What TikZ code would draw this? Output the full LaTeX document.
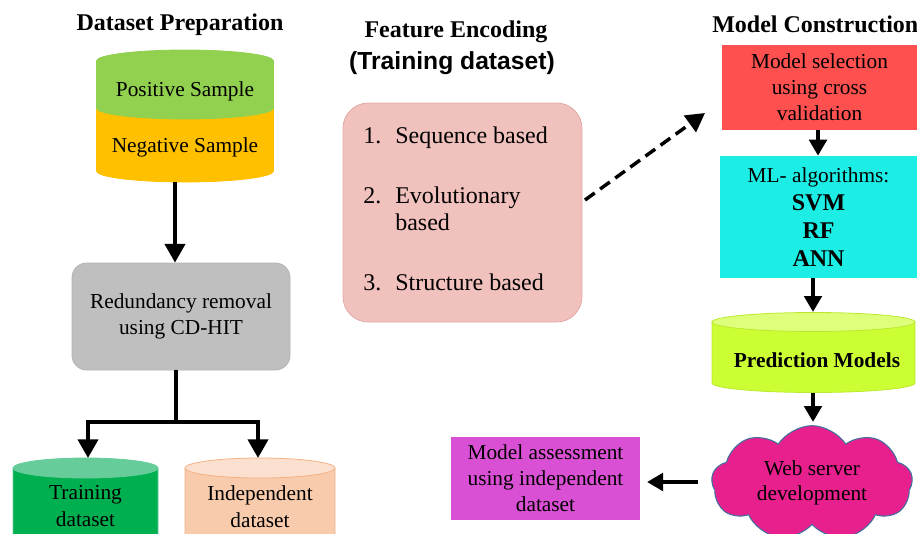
\documentclass[tikz,border=0pt]{standalone}
\usepackage{fontspec}
\setmainfont{Liberation Serif}
\newfontfamily\sansf{Liberation Sans}
\usetikzlibrary{arrows.meta,shapes.symbols,calc}
\definecolor{posgreen}{HTML}{92D050}
\definecolor{negorange}{HTML}{FFC000}
\definecolor{grayfill}{HTML}{BFBFBF}
\definecolor{grayline}{HTML}{B3B3B3}
\definecolor{traingreen}{HTML}{00B050}
\definecolor{traintop}{HTML}{66CC99}
\definecolor{indepfill}{HTML}{F8CBAD}
\definecolor{indeptop}{HTML}{FCE0CF}
\definecolor{indepline}{HTML}{F4B183}
\definecolor{pinkfill}{HTML}{F0C1BD}
\definecolor{pinkline}{HTML}{E2AAA6}
\definecolor{redfill}{HTML}{FF5050}
\definecolor{cyanfill}{HTML}{1CEEE6}
\definecolor{predfill}{HTML}{CCFF33}
\definecolor{predtop}{HTML}{DDFF7A}
\definecolor{predline}{HTML}{BCE82F}
\definecolor{cloudfill}{HTML}{E8208E}
\definecolor{cloudline}{HTML}{41719C}
\definecolor{magfill}{HTML}{DA50D4}
% cylinder: cx, rx, ytop-centre, ybottom-centre, ry, body, line, top
\newcommand\cylinderdraw[8]{%
  \filldraw[fill=#6,draw=#7,line width=0.6pt] (#1-#2,-#3) -- (#1-#2,-#4)
    arc[start angle=180,end angle=360,x radius=#2,y radius=#5] -- (#1+#2,-#3) -- cycle;
  \filldraw[fill=#8,draw=#7,line width=0.6pt] (#1,-#3) ellipse[x radius=#2,y radius=#5];}
\begin{document}
\begin{tikzpicture}[x=0.75pt,y=0.75pt,
  lbl/.style={font=\fontsize{16}{19.5}\selectfont, align=center, inner sep=0pt},
  lst/.style={font=\fontsize{18}{20}\selectfont, anchor=base west, inner sep=0pt},
  ttl/.style={font=\fontsize{18}{21}\selectfont\bfseries, inner sep=0pt},
  boxr/.style={inner sep=0pt, align=center, font=\fontsize{16}{19.5}\selectfont},
  arr/.style={line width=3pt, -{Triangle[width=15pt,length=14pt]}},
  sarr/.style={line width=3pt, -{Triangle[width=13pt,length=12pt]}},
  darr/.style={line width=2.6pt, dash pattern=on 9pt off 5pt, -{Triangle[width=15pt,length=14pt]}}]
\useasboundingbox (0,0) rectangle (917,-533);
\clip (0,0) rectangle (917,-533);

% ---------- Dataset preparation ----------
\node[ttl] (t1) at (180,-25) {Dataset Preparation};
\cylinderdraw{185}{88.5}{108}{171}{11}{negorange}{negorange}{negorange}
\cylinderdraw{185}{88.5}{61}{108}{11}{posgreen}{posgreen}{posgreen}
\node[lbl] (pos) at (185,-91) {Positive Sample};
\node[lbl] (neg) at (185,-147) {Negative Sample};
\coordinate (dsbot) at (175,-182);

\node[boxr, fill=grayfill, draw=grayline, line width=0.6pt, rounded corners=11pt,
      minimum width=163.5pt, minimum height=80.25pt] (redund) at (181,-316.5)
      {Redundancy removal\\using CD-HIT};
\draw[arr] (dsbot) -- (dsbot |- redund.north);

\cylinderdraw{85.5}{72.5}{468}{560}{10}{traingreen}{traintop}{traintop}
\cylinderdraw{260}{75}{468}{560}{10}{indepfill}{indepline}{indeptop}
\node[lbl, font=\fontsize{16}{20.25}\selectfont] (train) at (85.5,-506.5) {Training\\dataset};
\node[lbl, font=\fontsize{16}{20.25}\selectfont] (indep) at (260,-506.5) {Independent\\dataset};
\coordinate (split) at (176,-422);
\coordinate (ltip) at (88,-458);
\coordinate (rtip) at (258,-458);
\draw[line width=3pt] (redund.south -| split) -- (split);
\draw[arr] (split) -| (ltip);
\draw[arr] (split) -| (rtip);

% ---------- Feature encoding ----------
\node[ttl] (t2) at (456,-32) {Feature Encoding};
\node[font=\fontsize{18.5}{21}\selectfont\sansf\bfseries, inner sep=0pt] (t2b) at (452,-63) {(Training dataset)};
\node[fill=pinkfill, draw=pinkline, line width=0.6pt, rounded corners=19pt,
      minimum width=179.25pt, minimum height=164.25pt, inner sep=0pt] (feat) at (462.5,-212.5) {};
\node[lst] (l1n) at (363,-143) {1.};
\node[lst] (l1) at (395,-143) {Sequence based};
\node[lst] (l2n) at (363,-203) {2.};
\node[lst] (l2) at (395,-203) {Evolutionary};
\node[lst] (l2b) at (395,-230) {based};
\node[lst] (l3n) at (363,-290) {3.};
\node[lst] (l3) at (395,-290) {Structure based};

% ---------- Model construction ----------
\node[ttl, anchor=west] (t3) at (712,-24) {Model Construction};
\node[boxr, fill=redfill, minimum width=146.25pt, minimum height=63.75pt] (msel) at (819.5,-87.5)
  {Model selection\\using cross\\validation};
\node[boxr, fill=cyanfill, minimum width=147.75pt, minimum height=91.5pt,
      font=\fontsize{16}{21}\selectfont] (mlalg) at (818.5,-217)
  {ML- algorithms:\\{\fontsize{18}{21}\selectfont\bfseries SVM}\\{\fontsize{18}{21}\selectfont\bfseries RF}\\{\fontsize{18}{21}\selectfont\bfseries ANN}};
\coordinate (dstart) at (585,-200);
\coordinate (dend) at (705,-113);
\draw[darr] (dstart) -- (dend);
\coordinate (mx) at (818,0);
\draw[sarr] (msel.south -| mx) -- (mlalg.north -| mx);

\cylinderdraw{813.5}{101.5}{322}{383}{9.5}{predfill}{predline}{predtop}
\node[lbl, font=\fontsize{16}{19.5}\selectfont\bfseries] (pred) at (817,-360) {Prediction Models};
\coordinate (predtopc) at (813,-312);
\coordinate (predbot) at (813,-393);
\draw[sarr] (mlalg.south -| predtopc) -- (predtopc);

\node[cloud, cloud puffs=9, cloud puff arc=115, aspect=1.8, fill=cloudfill, draw=cloudline,
      line width=0.8pt, minimum width=150.75pt, minimum height=86pt, inner sep=0pt,
      align=center, font=\fontsize{16}{18.75}\selectfont] (web) at (812,-483)
      {Web server\\development};
\coordinate (webtop) at (813,-422);
\draw[sarr] (predbot) -- (webtop);

\node[boxr, fill=magfill, minimum width=141.75pt, minimum height=62.25pt] (assess) at (545.5,-478.5)
  {Model assessment\\using independent\\dataset};
\coordinate (wl) at (698,-482);
\coordinate (al) at (647,-482);
\draw[sarr] (wl) -- (al);
\end{tikzpicture}
\end{document}
